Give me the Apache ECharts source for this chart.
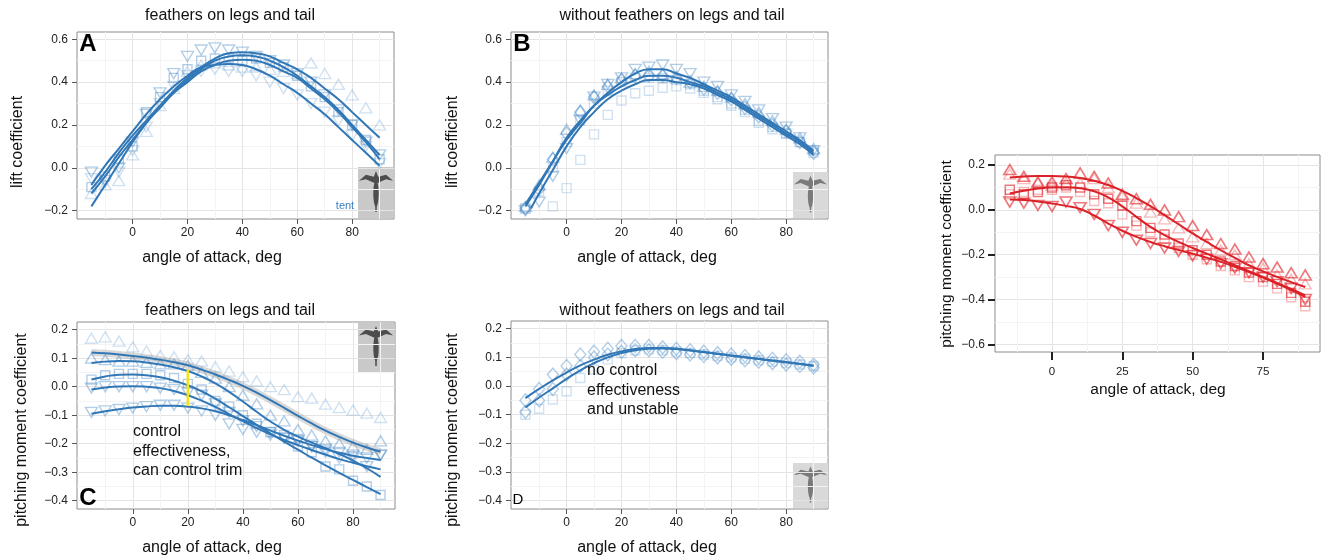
<!DOCTYPE html>
<html>
<head>
<meta charset="utf-8">
<script src="https://cdn.jsdelivr.net/npm/echarts@6.0.0/dist/echarts.min.js"></script>
<style>
  html, body { margin: 0; padding: 0; background: #fff; }
  #chart { width: 1321px; height: 557px; }
</style>
</head>
<body>
<div id="chart"></div>
<script>
// angle of attack, deg (same for every panel)
const angles = [-15, -10, -5, 0, 5, 10, 15, 20, 25, 30, 35, 40, 45, 50, 55, 60, 65, 70, 75, 80, 85, 90];
const xTicks = [0, 20, 40, 60, 80];
const xTicksRed = [0, 25, 50, 75];
const liftTicks = [-0.2, 0, 0.2, 0.4, 0.6];
const pitchTicks = [-0.4, -0.3, -0.2, -0.1, 0, 0.1, 0.2];
const pitchTicksRed = [-0.6, -0.4, -0.2, 0, 0.2];

// A: lift, feathers on legs and tail
const aUp    = [-0.12, -0.08, -0.06, 0.06, 0.17, 0.29, 0.37, 0.45, 0.48, 0.49, 0.48, 0.47, 0.47, 0.46, 0.45, 0.44, 0.49, 0.44, 0.39, 0.34, 0.28, 0.20];
const aDown  = [-0.02, -0.06, 0.00, 0.12, 0.25, 0.35, 0.44, 0.52, 0.55, 0.56, 0.55, 0.54, 0.52, 0.50, 0.48, 0.44, 0.40, 0.34, 0.27, 0.20, 0.12, 0.06];
const aDown2 = [-0.05, -0.07, -0.02, 0.08, 0.19, 0.30, 0.38, 0.43, 0.45, 0.46, 0.45, 0.45, 0.43, 0.40, 0.37, 0.34, 0.30, 0.26, 0.22, 0.15, 0.10, 0.02];
const aSquare = [-0.09, -0.04, 0.04, 0.10, 0.26, 0.33, 0.42, 0.46, 0.50, 0.51, 0.51, 0.50, 0.51, 0.49, 0.47, 0.43, 0.38, 0.33, 0.26, 0.20, 0.13, 0.04];
const aFit1 = [-0.18, -0.08, 0.02, 0.12, 0.21, 0.29, 0.36, 0.42, 0.47, 0.51, 0.535, 0.54, 0.535, 0.52, 0.49, 0.46, 0.42, 0.37, 0.32, 0.26, 0.20, 0.14];
const aFit2 = [-0.12, -0.04, 0.05, 0.13, 0.21, 0.28, 0.35, 0.41, 0.46, 0.50, 0.52, 0.525, 0.52, 0.50, 0.47, 0.43, 0.38, 0.33, 0.27, 0.20, 0.13, 0.06];
const aFit3 = [-0.10, -0.02, 0.07, 0.15, 0.22, 0.29, 0.35, 0.40, 0.45, 0.48, 0.50, 0.505, 0.50, 0.48, 0.45, 0.42, 0.37, 0.32, 0.26, 0.19, 0.12, 0.04];
const aFit4 = [-0.08, 0.01, 0.09, 0.17, 0.25, 0.32, 0.38, 0.43, 0.47, 0.48, 0.485, 0.48, 0.46, 0.43, 0.39, 0.35, 0.30, 0.25, 0.19, 0.13, 0.07, 0.01];

// B: lift, without feathers on legs and tail
const bUp     = [-0.18, -0.08, 0.05, 0.18, 0.27, 0.34, 0.39, 0.42, 0.44, 0.45, 0.44, 0.42, 0.40, 0.38, 0.36, 0.33, 0.30, 0.26, 0.22, 0.18, 0.14, 0.09];
const bDown   = [-0.20, -0.16, -0.04, 0.09, 0.22, 0.33, 0.39, 0.42, 0.46, 0.47, 0.48, 0.46, 0.44, 0.40, 0.38, 0.34, 0.31, 0.27, 0.23, 0.19, 0.14, 0.08];
const bDiamond = [-0.19, -0.10, 0.04, 0.16, 0.26, 0.33, 0.38, 0.41, 0.43, 0.43, 0.43, 0.42, 0.40, 0.37, 0.35, 0.32, 0.28, 0.24, 0.20, 0.17, 0.12, 0.07];
const bSquare = [-0.19, null, -0.18, -0.095, 0.037, 0.156, 0.247, 0.314, 0.348, 0.36, 0.374, 0.38, 0.37, 0.35, 0.32, 0.29, 0.26, 0.21, 0.18, 0.16, 0.12, 0.08];
const bSquare2 = [-0.19, -0.11, 0.00, 0.12, 0.22, 0.30, 0.36, 0.40, 0.42, 0.42, 0.42, 0.41, 0.39, 0.36, 0.33, 0.30, 0.27, 0.22, 0.19, 0.16, 0.12, 0.07];
const bFit1 = [-0.17, -0.07, 0.03, 0.13, 0.21, 0.29, 0.35, 0.40, 0.44, 0.46, 0.46, 0.44, 0.42, 0.39, 0.36, 0.33, 0.29, 0.25, 0.21, 0.17, 0.13, 0.08];
const bFit2 = [-0.18, -0.08, 0.03, 0.14, 0.22, 0.29, 0.34, 0.38, 0.41, 0.43, 0.43, 0.42, 0.40, 0.38, 0.35, 0.32, 0.28, 0.24, 0.20, 0.16, 0.12, 0.07];
const bFit3Angles = [-13, -10, -5, 0, 5, 10, 15, 20, 25, 30, 35, 40, 45, 50, 55, 60, 65, 70, 75, 80, 85, 90];
const bFit3 = [-0.19, -0.12, -0.01, 0.10, 0.19, 0.26, 0.32, 0.36, 0.39, 0.41, 0.41, 0.40, 0.39, 0.37, 0.34, 0.31, 0.27, 0.23, 0.19, 0.15, 0.11, 0.06];

// C: pitching moment, feathers on legs and tail
const cUp    = [0.17, 0.175, 0.16, 0.14, 0.125, 0.11, 0.105, 0.095, 0.09, 0.07, 0.055, 0.035, 0.02, 0.0, -0.01, -0.035, -0.04, -0.061, -0.073, -0.082, -0.093, -0.108];
const cUp2   = [0.10, 0.095, 0.09, 0.09, 0.085, 0.08, 0.08, 0.075, 0.05, 0.03, 0.0, -0.03, -0.06, -0.10, -0.12, -0.15, -0.17, -0.19, -0.20, -0.21, -0.22, -0.19];
const cSquare = [0.025, 0.04, 0.045, 0.045, 0.045, 0.04, 0.03, 0.01, -0.01, -0.05, -0.07, -0.10, -0.13, -0.16, -0.17, -0.21, -0.23, -0.28, -0.29, -0.33, -0.35, -0.38];
const cDown  = [-0.005, 0.0, 0.0, 0.0, 0.0, -0.005, -0.01, -0.02, -0.03, -0.06, -0.09, -0.12, -0.14, -0.16, -0.18, -0.19, -0.21, -0.23, -0.25, -0.25, -0.28, -0.24];
const cDown2 = [-0.09, -0.085, -0.08, -0.075, -0.07, -0.065, -0.065, -0.075, -0.085, -0.10, -0.13, -0.15, -0.16, -0.17, -0.18, -0.19, -0.21, -0.22, -0.23, -0.24, -0.25, -0.24];
const cFit1 = [0.120, 0.117, 0.113, 0.108, 0.102, 0.095, 0.086, 0.075, 0.060, 0.043, 0.024, 0.003, -0.021, -0.047, -0.074, -0.102, -0.129, -0.154, -0.176, -0.196, -0.213, -0.228];
const cFit2 = [0.083, 0.088, 0.090, 0.089, 0.085, 0.078, 0.068, 0.055, 0.036, 0.012, -0.018, -0.052, -0.088, -0.122, -0.151, -0.175, -0.196, -0.216, -0.236, -0.259, -0.286, -0.316];
const cFit3 = [0.025, 0.036, 0.042, 0.043, 0.040, 0.033, 0.021, 0.005, -0.016, -0.042, -0.072, -0.103, -0.134, -0.164, -0.193, -0.221, -0.249, -0.276, -0.302, -0.327, -0.352, -0.377];
const cFit4 = [-0.010, -0.003, 0.001, 0.002, 0.000, -0.005, -0.015, -0.030, -0.049, -0.071, -0.096, -0.121, -0.145, -0.167, -0.187, -0.205, -0.222, -0.238, -0.254, -0.267, -0.279, -0.290];
const cFit5 = [-0.095, -0.086, -0.079, -0.073, -0.069, -0.067, -0.067, -0.070, -0.076, -0.086, -0.100, -0.117, -0.135, -0.154, -0.172, -0.189, -0.205, -0.219, -0.232, -0.242, -0.250, -0.257];
// yellow bar at 20 deg: trim range
const trimAngle = 20;
const trimRange = [0.06, -0.068];

// D: pitching moment, without feathers on legs and tail
const dDiamond  = [-0.05, -0.01, 0.04, 0.07, 0.11, 0.12, 0.13, 0.14, 0.14, 0.14, 0.135, 0.13, 0.125, 0.12, 0.115, 0.11, 0.105, 0.10, 0.095, 0.09, 0.085, 0.075];
const dDiamond2 = [-0.09, -0.05, -0.01, 0.04, 0.07, 0.10, 0.11, 0.12, 0.125, 0.125, 0.12, 0.115, 0.11, 0.105, 0.10, 0.095, 0.09, 0.085, 0.08, 0.075, 0.07, 0.065];
const dSquare   = [-0.10, -0.079, -0.047, -0.018, 0.028, 0.058, 0.093, 0.115, 0.125, 0.128, 0.125, 0.12, 0.115, 0.11, 0.105, 0.10, 0.095, 0.09, 0.085, 0.08, 0.075, 0.07];
const dFit1 = [-0.042, -0.010, 0.020, 0.047, 0.072, 0.092, 0.109, 0.121, 0.129, 0.133, 0.133, 0.130, 0.125, 0.119, 0.113, 0.107, 0.101, 0.095, 0.089, 0.084, 0.078, 0.072];
const dFit2 = [-0.075, -0.040, -0.008, 0.025, 0.055, 0.080, 0.100, 0.115, 0.125, 0.130, 0.131, 0.129, 0.124, 0.118, 0.112, 0.106, 0.100, 0.094, 0.088, 0.082, 0.077, 0.070];

// red panel: pitching moment
const eUp     = [0.18, 0.15, 0.125, 0.125, 0.14, 0.165, 0.15, 0.12, 0.07, 0.05, 0.025, 0.0, -0.03, -0.07, -0.11, -0.15, -0.175, -0.21, -0.24, -0.255, -0.28, -0.29];
const eUp2    = [0.16, 0.14, 0.12, 0.11, 0.12, 0.12, 0.14, 0.10, 0.06, 0.03, -0.01, -0.04, -0.08, -0.12, -0.15, -0.18, -0.20, -0.24, -0.26, -0.29, -0.31, -0.33];
const eSquare = [0.09, 0.07, 0.08, 0.10, 0.11, 0.10, 0.07, 0.05, 0.02, -0.05, -0.08, -0.11, -0.15, -0.18, -0.20, -0.23, -0.25, -0.28, -0.30, -0.33, -0.37, -0.41];
const eSquare2 = [0.07, 0.08, 0.09, 0.09, 0.10, 0.08, 0.04, 0.03, -0.02, -0.07, -0.10, -0.13, -0.17, -0.20, -0.22, -0.25, -0.27, -0.30, -0.32, -0.35, -0.39, -0.43];
const eDown   = [0.035, 0.03, 0.02, 0.015, 0.035, 0.01, -0.02, -0.07, -0.10, -0.135, -0.15, -0.17, -0.185, -0.205, -0.22, -0.24, -0.26, -0.28, -0.30, -0.32, -0.35, -0.40];
const eFit1 = [0.145, 0.149, 0.151, 0.151, 0.149, 0.142, 0.130, 0.111, 0.085, 0.053, 0.017, -0.023, -0.064, -0.105, -0.143, -0.180, -0.214, -0.247, -0.274, -0.299, -0.322, -0.344];
const eFit2 = [0.073, 0.085, 0.095, 0.100, 0.101, 0.097, 0.083, 0.056, 0.016, -0.031, -0.076, -0.112, -0.143, -0.170, -0.195, -0.221, -0.247, -0.273, -0.299, -0.326, -0.353, -0.381];
const eFit3 = [0.047, 0.044, 0.038, 0.029, 0.018, 0.004, -0.025, -0.061, -0.093, -0.120, -0.143, -0.162, -0.179, -0.195, -0.213, -0.232, -0.254, -0.277, -0.302, -0.329, -0.358, -0.388];

const F = '"Liberation Sans", Arial, Helvetica, sans-serif';
const BLUE = '#3177b6';
const BLUE_PT = 'rgba(62, 132, 196, 0.5)';
const BLUE_PT2 = 'rgba(62, 132, 196, 0.3)';
const RED = '#db2128';
const RED_PT = 'rgba(226, 30, 36, 0.75)';
const RED_PT2 = 'rgba(232, 70, 75, 0.45)';

const chart = echarts.init(document.getElementById('chart'), null, { renderer: 'canvas' });

function pts(ys, xs) {
  xs = xs || angles;
  return xs.map((a, i) => [a, ys[i]]).filter(p => p[1] != null);
}

function marks(gi, ys, shape, color, width) {
  const sym = shape === 'square' ? 'rect' : shape === 'diamond' ? 'diamond' : 'triangle';
  let size = [12, 10];
  if (shape === 'square') size = 9;
  if (shape === 'diamond') size = [11, 13];
  return {
    type: 'scatter', xAxisIndex: gi, yAxisIndex: gi, data: pts(ys),
    symbol: sym, symbolRotate: shape === 'down' ? 180 : 0, symbolSize: size,
    itemStyle: { color: 'rgba(0,0,0,0)', borderColor: color, borderWidth: width || 1.4 },
    silent: true, z: 2
  };
}

function fit(gi, data, color, width) {
  return {
    type: 'line', xAxisIndex: gi, yAxisIndex: gi, data: data, smooth: 0.5,
    showSymbol: false, symbol: 'none',
    lineStyle: { color: color, width: width || 2 }, silent: true, z: 3
  };
}

function fmt(v) {
  return (v < 0 ? '\u2212' : '') + Math.abs(v).toFixed(1);
}

function grid(left, top, width, height) {
  return {
    left, top, width, height, show: true, borderColor: '#8c8c8c', borderWidth: 1,
    backgroundColor: '#fff', containLabel: false, outerBoundsMode: 'none'
  };
}

function xAx(gi, ticks, red) {
  return {
    type: 'value', gridIndex: gi, min: -20.25, max: 95.25, position: 'bottom',
    axisLine: { show: false, onZero: false },
    axisTick: { show: true, customValues: ticks, length: red ? 8 : 5, lineStyle: { color: red ? '#222' : '#555', width: red ? 2 : 1 } },
    axisLabel: { customValues: ticks, fontSize: red ? 11.5 : 12, color: '#222', fontFamily: F, margin: red ? 14 : 8 },
    splitLine: { show: true, lineStyle: { color: '#e4e4e4', width: 1 } },
    minorTick: { show: false, splitNumber: 2 },
    minorSplitLine: { show: !red, lineStyle: { color: '#f3f3f3', width: 1 } }
  };
}

function yAx(gi, ticks, min, max, red) {
  return {
    type: 'value', gridIndex: gi, min: min, max: max, position: 'left',
    axisLine: { show: false, onZero: false },
    axisTick: { show: true, customValues: ticks, length: red ? 7 : 5, lineStyle: { color: red ? '#222' : '#555', width: red ? 2 : 1 } },
    axisLabel: { customValues: ticks, formatter: fmt, fontSize: 12, color: '#222', fontFamily: F, margin: red ? 10 : 9 },
    splitLine: { show: true, lineStyle: { color: '#e4e4e4', width: 1 } },
    minorTick: { show: false, splitNumber: 2 },
    minorSplitLine: { show: true, lineStyle: { color: '#f3f3f3', width: 1 } }
  };
}

function txt(x, y, text, size, extra) {
  return Object.assign({
    type: 'text', x: x, y: y, silent: true, z: 50,
    style: Object.assign({ text: text, fontSize: size, fontFamily: F, fill: '#111', align: 'center', verticalAlign: 'middle' }, (extra && extra.style) || {})
  }, extra ? { rotation: extra.rotation || 0 } : {});
}

// small grey photo insets with a bird silhouette
function inset(x, y, w, h, bg, ink) {
  return {
    type: 'group', x: x, y: y, silent: true, z: 40,
    children: [
      { type: 'rect', shape: { x: 0, y: 0, width: w, height: h }, style: { fill: bg } },
      { type: 'polygon', shape: { points: [[1, h * 0.27], [w * 0.22, h * 0.15], [w * 0.44, h * 0.19], [w * 0.5, h * 0.08], [w * 0.56, h * 0.19], [w * 0.78, h * 0.15], [w - 1, h * 0.27], [w * 0.78, h * 0.24], [w * 0.56, h * 0.31], [w * 0.44, h * 0.31], [w * 0.22, h * 0.24]] }, style: { fill: ink } },
      { type: 'ellipse', shape: { cx: w / 2, cy: h * 0.52, rx: w * 0.075, ry: h * 0.26 }, style: { fill: ink } },
      { type: 'line', shape: { x1: w / 2, y1: h * 0.7, x2: w / 2, y2: h * 0.88 }, style: { stroke: ink, lineWidth: 1.5 } }
    ]
  };
}

const option = {
  animation: false,
  backgroundColor: '#fff',
  textStyle: { fontFamily: F },
  grid: [
    grid(77, 32, 317, 187),   // A
    grid(511, 32, 317, 187),  // B
    grid(77, 322, 318, 187),  // C
    grid(511, 321, 317, 188), // D
    grid(995, 155, 325, 197)  // red
  ],
  xAxis: [
    xAx(0, xTicks), xAx(1, xTicks), xAx(2, xTicks), xAx(3, xTicks), xAx(4, xTicksRed, true),
    // minor grid lines for the red panel
    {
      type: 'value', gridIndex: 4, min: -20.25, max: 95.25, position: 'bottom',
      axisLine: { show: false, onZero: false }, axisLabel: { show: false },
      axisTick: { show: false, customValues: [-12.5, 12.5, 37.5, 62.5, 87.5] },
      splitLine: { show: true, lineStyle: { color: '#f3f3f3', width: 1 } }
    }
  ],
  yAxis: [
    yAx(0, liftTicks, -0.239, 0.634),
    yAx(1, liftTicks, -0.239, 0.634),
    yAx(2, pitchTicks, -0.429, 0.227),
    yAx(3, pitchTicks, -0.429, 0.227),
    yAx(4, pitchTicksRed, -0.634, 0.245, true)
  ],
  series: [
    // A
    marks(0, aUp, 'up', BLUE_PT2),
    marks(0, aSquare, 'square', BLUE_PT),
    marks(0, aDown, 'down', BLUE_PT),
    marks(0, aDown2, 'down', BLUE_PT2),
    fit(0, pts(aFit1), BLUE), fit(0, pts(aFit2), BLUE), fit(0, pts(aFit3), BLUE), fit(0, pts(aFit4), BLUE),
    // B
    marks(1, bSquare, 'square', BLUE_PT2),
    marks(1, bSquare2, 'square', BLUE_PT2),
    marks(1, bUp, 'up', BLUE_PT),
    marks(1, bDiamond, 'diamond', BLUE_PT),
    marks(1, bDown, 'down', BLUE_PT),
    fit(1, pts(bFit1), BLUE), fit(1, pts(bFit2), BLUE), fit(1, pts(bFit3, bFit3Angles), BLUE),
    // C
    marks(2, cUp, 'up', BLUE_PT2),
    marks(2, cUp2, 'up', BLUE_PT),
    marks(2, cSquare, 'square', BLUE_PT),
    marks(2, cDown, 'down', BLUE_PT),
    marks(2, cDown2, 'down', BLUE_PT),
    fit(2, pts(cFit1), 'rgba(150,150,150,0.35)', 7),
    fit(2, pts(cFit1), BLUE), fit(2, pts(cFit2), BLUE), fit(2, pts(cFit3), BLUE), fit(2, pts(cFit4), BLUE), fit(2, pts(cFit5), BLUE),
    {
      type: 'line', xAxisIndex: 2, yAxisIndex: 2, data: trimRange.map(v => [trimAngle, v]),
      showSymbol: false, symbol: 'none', lineStyle: { color: '#f4e21a', width: 2.5 }, silent: true, z: 4
    },
    // D
    marks(3, dSquare, 'square', BLUE_PT2),
    marks(3, dDiamond, 'diamond', BLUE_PT),
    marks(3, dDiamond2, 'diamond', BLUE_PT),
    fit(3, pts(dFit1), BLUE), fit(3, pts(dFit2), BLUE),
    // red
    marks(4, eUp2, 'up', RED_PT2),
    marks(4, eSquare2, 'square', RED_PT2),
    marks(4, eUp, 'up', RED_PT, 1.6),
    marks(4, eSquare, 'square', RED_PT),
    marks(4, eDown, 'down', RED_PT, 1.6),
    fit(4, pts(eFit1), RED), fit(4, pts(eFit2), RED), fit(4, pts(eFit3), RED)
  ],
  graphic: [
    // panel titles
    txt(230, 16, 'feathers on legs and tail', 16),
    txt(672, 16, 'without feathers on legs and tail', 16),
    txt(230, 311, 'feathers on legs and tail', 16),
    txt(672, 311, 'without feathers on legs and tail', 16),
    // axis titles
    txt(212, 258, 'angle of attack, deg', 16),
    txt(647, 258, 'angle of attack, deg', 16),
    txt(212, 548, 'angle of attack, deg', 16),
    txt(647, 548, 'angle of attack, deg', 16),
    txt(1158, 390, 'angle of attack, deg', 15.5),
    txt(18, 142, 'lift coefficient', 16, { rotation: Math.PI / 2 }),
    txt(453, 142, 'lift coefficient', 16, { rotation: Math.PI / 2 }),
    txt(22, 430, 'pitching moment coefficient', 16, { rotation: Math.PI / 2 }),
    txt(453, 430, 'pitching moment coefficient', 16, { rotation: Math.PI / 2 }),
    txt(947, 254, 'pitching moment coefficient', 15.5, { rotation: Math.PI / 2 }),
    // panel letters
    txt(88, 44, 'A', 24, { style: { fontWeight: 'bold', fill: '#000' } }),
    txt(522, 44, 'B', 24, { style: { fontWeight: 'bold', fill: '#000' } }),
    txt(88, 498, 'C', 24, { style: { fontWeight: 'bold', fill: '#000' } }),
    txt(518, 500, 'D', 15, { style: { fill: '#000' } }),
    // notes
    txt(133, 422, 'control\neffectiveness,\ncan control trim', 16, { style: { align: 'left', verticalAlign: 'top', lineHeight: 19.5 } }),
    txt(587, 361, 'no control\neffectiveness\nand unstable', 16, { style: { align: 'left', verticalAlign: 'top', lineHeight: 19.5 } }),
    txt(345, 206, 'tent', 11, { style: { fill: '#3a80c2' } }),
    // photo insets
    inset(358, 167, 36, 51, '#c9c9c9', '#4d4d4d'),
    inset(793, 172, 35, 46, '#d9d9d9', '#7a7a7a'),
    inset(358, 322, 36, 50, '#c9c9c9', '#4d4d4d'),
    inset(793, 463, 35, 45, '#d9d9d9', '#7a7a7a')
  ]
};

chart.setOption(option);
</script>
</body>
</html>
